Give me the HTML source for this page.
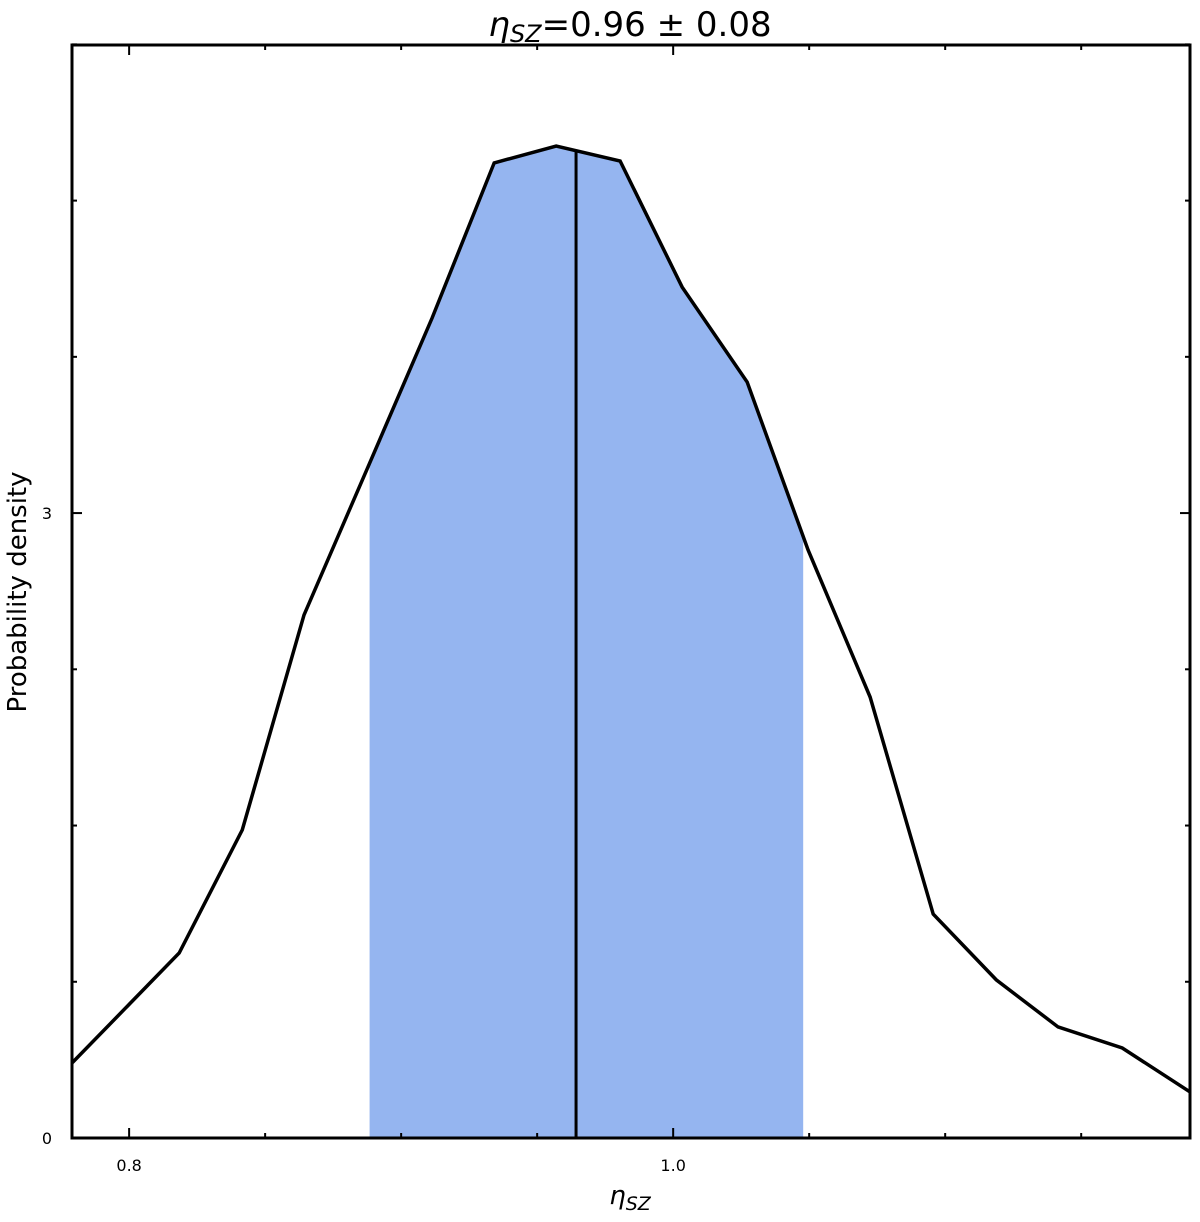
<!DOCTYPE html>
<html><head><meta charset="utf-8"><style>
body{margin:0;background:#fff;}
svg text{font-family:"DejaVu Sans","Liberation Sans",sans-serif;}
</style></head><body>
<svg id="chart" width="1200" height="1217" viewBox="0 0 1200 1217" xmlns="http://www.w3.org/2000/svg">
<text x="630" y="36" text-anchor="middle" font-size="34"><tspan font-style="italic">η</tspan><tspan font-style="italic" font-size="24" dy="6">SZ</tspan><tspan dy="-6">=0.96 ± 0.08</tspan></text>
<text x="630" y="1204" text-anchor="middle" font-size="26"><tspan font-style="italic">η</tspan><tspan font-style="italic" font-size="19" dy="6">SZ</tspan></text>
<text transform="translate(26,592) rotate(-90)" text-anchor="middle" font-size="26">Probability density</text>
<g id="plot"></g>
</svg>
<script>
const xs = [0.779,0.8184,0.8416,0.8643,0.8875,0.9114,0.9342,0.9570,0.9805,1.0033,1.0272,1.0496,1.0724,1.0956,1.1188,1.1415,1.1651,1.19];
const ys = [0.36,0.888,1.479,2.511,3.212,3.937,4.681,4.762,4.690,4.085,3.629,2.823,2.117,1.075,0.759,0.533,0.432,0.221];
const bandLow = 0.8884, bandHigh = 1.0478, median = 0.9643;
const xTickVals = [0.8,1.0];
const xTickLabels = ["0.8","1.0"];
const yTickVals = [0,3];
const yTickLabels = ["0","3"];
const X0=72,X1=1190,Y0=1138,Y1=45,xmin=0.779,xmax=1.19,ymin=0,ymax=5.247;
const sx=v=>X0+(v-xmin)/(xmax-xmin)*(X1-X0);
const sy=v=>Y0-(v-ymin)/(ymax-ymin)*(Y0-Y1);
const NS="http://www.w3.org/2000/svg";
const g=document.getElementById('plot');
function mk(t,a){const e=document.createElementNS(NS,t);for(const k in a)e.setAttribute(k,a[k]);g.appendChild(e);return e;}
function interp(x){for(let i=0;i<xs.length-1;i++){if(x>=xs[i]&&x<=xs[i+1]){const t=(x-xs[i])/(xs[i+1]-xs[i]);return ys[i]+t*(ys[i+1]-ys[i]);}}return 0;}
// band
let d=`M${sx(bandLow)},${sy(0)} L${sx(bandLow)},${sy(interp(bandLow))}`;
for(let i=0;i<xs.length;i++)if(xs[i]>bandLow&&xs[i]<bandHigh)d+=` L${sx(xs[i])},${sy(ys[i])}`;
d+=` L${sx(bandHigh)},${sy(interp(bandHigh))} L${sx(bandHigh)},${sy(0)} Z`;
const band=mk('path',{d:d,fill:'#95b5f0'});


// curve
const line=mk('polyline',{points:xs.map((x,i)=>sx(x)+','+sy(ys[i])).join(' '),fill:'none',stroke:'#000','stroke-width':3.5,'stroke-linejoin':'miter'});


// median
const med=mk('line',{x1:sx(median),x2:sx(median),y1:sy(0),y2:sy(interp(median)),stroke:'#000','stroke-width':3});


// ticks
for(let v=0.75;v<=1.19;v+=0.05){const p=sx(v);if(p<X0||p>X1)continue;const major=xTickVals.some(t=>Math.abs(t-v)<1e-6);const L=major?10:5;
 const t1=mk('line',{x1:p,x2:p,y1:Y0,y2:Y0-L,stroke:'#000','stroke-width':2});
 const t2=mk('line',{x1:p,x2:p,y1:Y1,y2:Y1+L,stroke:'#000','stroke-width':2});}
for(let v=0.75;v<=5.25;v+=0.75){const p=sy(v);const major=yTickVals.some(t=>Math.abs(t-v)<1e-6);const L=major?10:5;
 const t1=mk('line',{x1:X0,x2:X0+L,y1:p,y2:p,stroke:'#000','stroke-width':2});
 const t2=mk('line',{x1:X1,x2:X1-L,y1:p,y2:p,stroke:'#000','stroke-width':2});}
xTickVals.forEach((v,i)=>{const t=mk('text',{x:sx(v),y:Y0+33,'text-anchor':'middle','font-size':16});t.textContent=xTickLabels[i];});
yTickVals.forEach((v,i)=>{const t=mk('text',{x:52,y:sy(v)+6,'text-anchor':'end','font-size':16});t.textContent=yTickLabels[i];});
const fr=mk('rect',{x:X0,y:Y1,width:X1-X0,height:Y0-Y1,fill:'none',stroke:'#000','stroke-width':3});


</script>
</body></html>
